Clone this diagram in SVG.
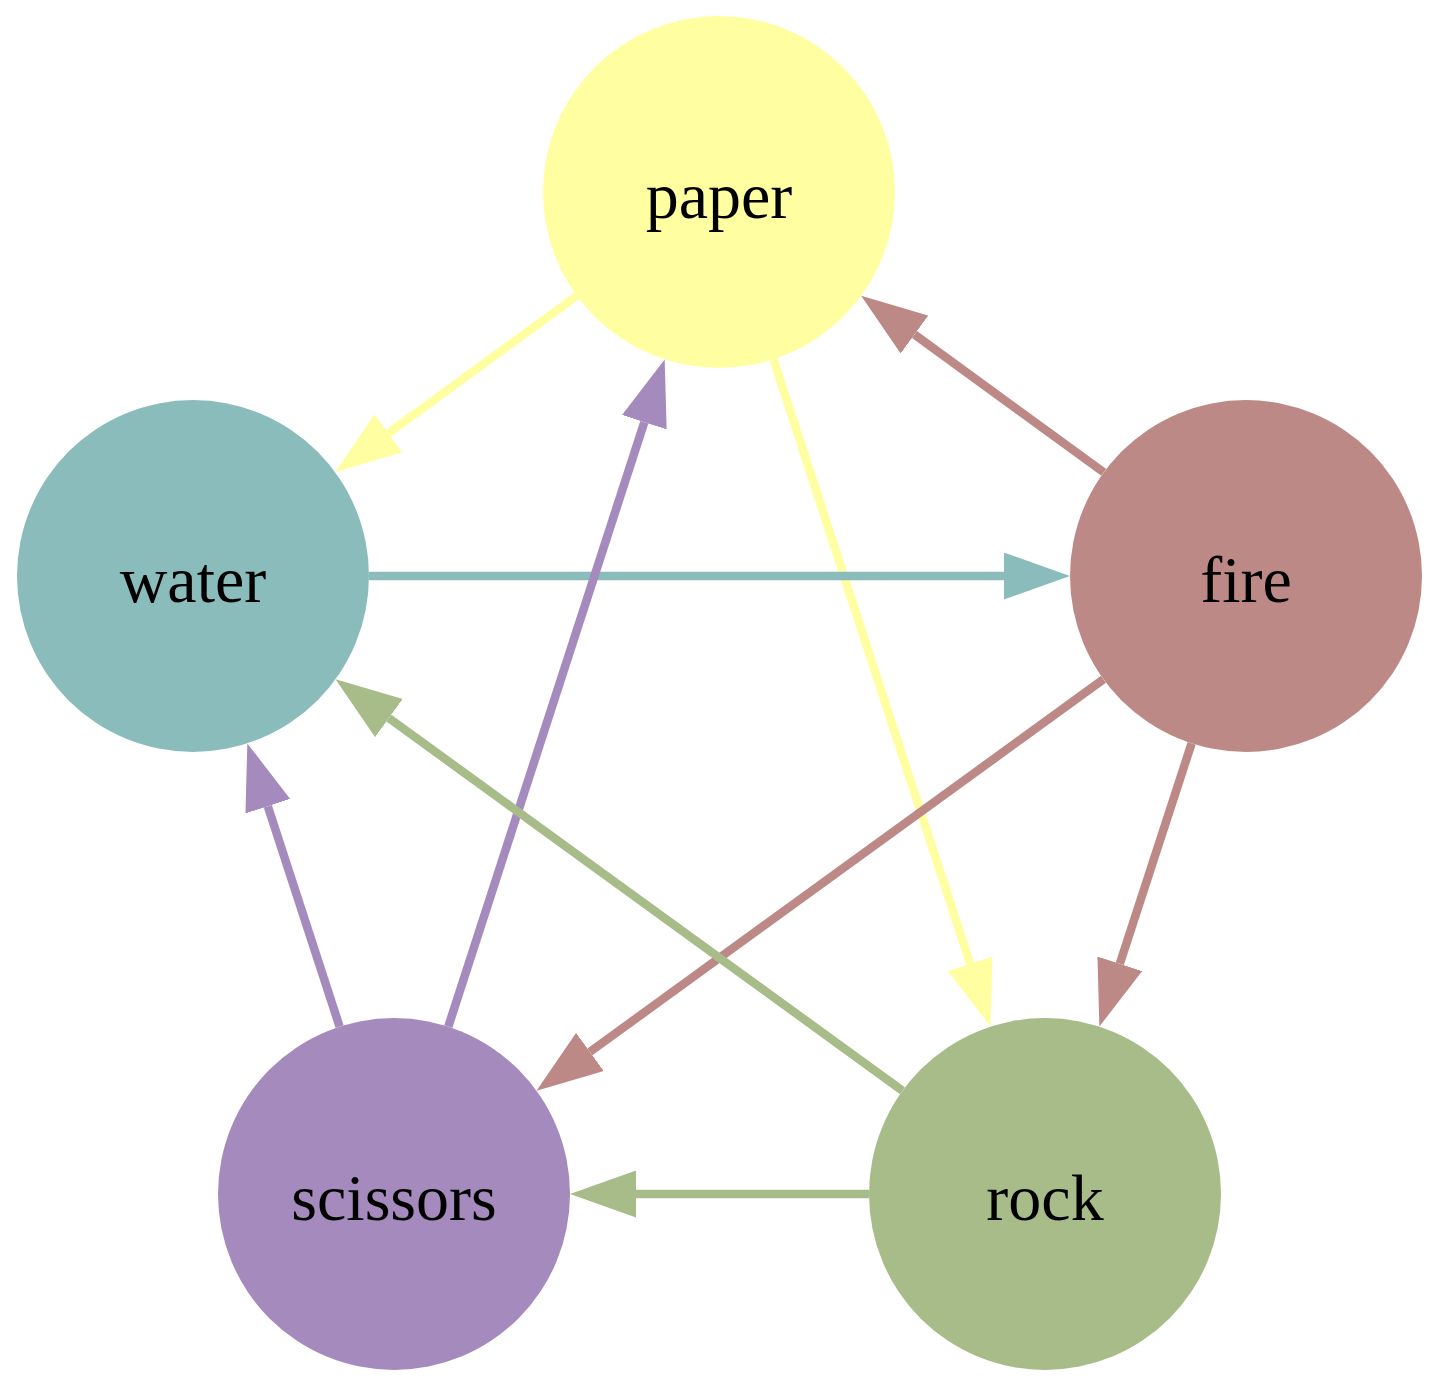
<svg xmlns="http://www.w3.org/2000/svg" width="1440" height="1388" viewBox="0 0 1440 1388">
<style>
.node text{font-family:"Liberation Serif","Times New Roman",serif;font-size:66px;text-anchor:middle;fill:#000}
.edge{fill:none;stroke-width:8.5}
</style>
<defs>
<marker id="aY" markerUnits="userSpaceOnUse" viewBox="0 -23.5 66 47" refX="0" refY="0" markerWidth="66" markerHeight="47" orient="auto"><path d="M0,-23.5 L66,0 L0,23.5 z" fill="#ffffa2"/></marker>
<marker id="aW" markerUnits="userSpaceOnUse" viewBox="0 -23.5 66 47" refX="0" refY="0" markerWidth="66" markerHeight="47" orient="auto"><path d="M0,-23.5 L66,0 L0,23.5 z" fill="#8bbcbc"/></marker>
<marker id="aF" markerUnits="userSpaceOnUse" viewBox="0 -23.5 66 47" refX="0" refY="0" markerWidth="66" markerHeight="47" orient="auto"><path d="M0,-23.5 L66,0 L0,23.5 z" fill="#bc8986"/></marker>
<marker id="aS" markerUnits="userSpaceOnUse" viewBox="0 -23.5 66 47" refX="0" refY="0" markerWidth="66" markerHeight="47" orient="auto"><path d="M0,-23.5 L66,0 L0,23.5 z" fill="#a58abd"/></marker>
<marker id="aR" markerUnits="userSpaceOnUse" viewBox="0 -23.5 66 47" refX="0" refY="0" markerWidth="66" markerHeight="47" orient="auto"><path d="M0,-23.5 L66,0 L0,23.5 z" fill="#a7bc88"/></marker>
</defs>
<rect width="1440" height="1388" fill="#fff"/>
<g id="nodes">
<g id="paper" class="node"><circle cx="719" cy="192" r="176" fill="#ffffa2"/><text x="719" y="218">paper</text></g>
<g id="water" class="node"><circle cx="193" cy="576" r="176" fill="#8bbcbc"/><text x="193" y="602">water</text></g>
<g id="fire" class="node"><circle cx="1246" cy="576" r="176" fill="#bc8986"/><text x="1246" y="602">fire</text></g>
<g id="scissors" class="node"><circle cx="394" cy="1194" r="176" fill="#a58abd"/><text x="394" y="1220">scissors</text></g>
<g id="rock" class="node"><circle cx="1045" cy="1194" r="176" fill="#a7bc88"/><text x="1045" y="1220">rock</text></g>
</g>
<g id="edges">
<line class="edge" x1="576.9" y1="295.8" x2="388.4" y2="433.3" stroke="#ffffa2" marker-end="url(#aY)"/>
<line class="edge" x1="773.5" y1="359.4" x2="970.1" y2="963.8" stroke="#ffffa2" marker-end="url(#aY)"/>
<line class="edge" x1="1103.8" y1="472.4" x2="914.5" y2="334.5" stroke="#bc8986" marker-end="url(#aF)"/>
<line class="edge" x1="369" y1="576" x2="1004" y2="576" stroke="#8bbcbc" marker-end="url(#aW)"/>
<line class="edge" x1="1103.5" y1="679.3" x2="589.9" y2="1051.9" stroke="#bc8986" marker-end="url(#aF)"/>
<line class="edge" x1="1191.6" y1="743.4" x2="1119.8" y2="963.8" stroke="#bc8986" marker-end="url(#aF)"/>
<line class="edge" x1="339.6" y1="1026.6" x2="267.8" y2="806.2" stroke="#a58abd" marker-end="url(#aS)"/>
<line class="edge" x1="448.3" y1="1026.6" x2="644.3" y2="422.2" stroke="#a58abd" marker-end="url(#aS)"/>
<line class="edge" x1="902.5" y1="1090.7" x2="388.9" y2="718.1" stroke="#a7bc88" marker-end="url(#aR)"/>
<line class="edge" x1="869" y1="1194" x2="636" y2="1194" stroke="#a7bc88" marker-end="url(#aR)"/>
</g>
</svg>
